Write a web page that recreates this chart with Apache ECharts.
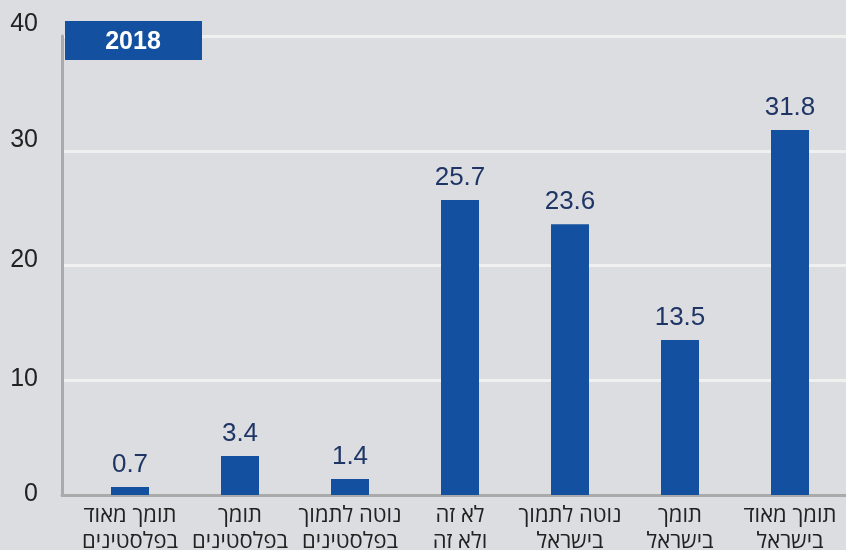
<!DOCTYPE html>
<html><head><meta charset="utf-8">
<script src="https://cdn.jsdelivr.net/npm/echarts@6/dist/echarts.min.js"></script>
<style>html,body{margin:0;padding:0;background:#dcdde0}#c{width:846px;height:550px}</style>
</head><body><div id="c"></div>
<script>
const categories = [
  'תומך מאוד\nבפלסטינים',
  'תומך\nבפלסטינים',
  'נוטה לתמוך\nבפלסטינים',
  'לא זה\nולא זה',
  'נוטה לתמוך\nבישראל',
  'תומך\nבישראל',
  'תומך מאוד\nבישראל'
];
const values = [0.7, 3.4, 1.4, 25.7, 23.6, 13.5, 31.8];
const yearLabel = '2018';
const yTicks = [0, 10, 20, 30, 40];

const font = '"Liberation Sans", "DejaVu Sans", sans-serif';
const hebFont = '"Open Sans", "Liberation Sans", sans-serif';
const tickStyle = pb => ({color: '#222', fontSize: 25, fontFamily: font, padding: [0, 0, pb, 0]});
const chart = echarts.init(document.getElementById('c'));
chart.setOption({
  backgroundColor: '#dcdde0',
  animation: false,
  grid: [
    {left: 62, right: 0, top: 36, bottom: 55, containLabel: false, outerBoundsMode: 'none'},
    {left: 75, right: 1, top: 36, bottom: 55, containLabel: false, outerBoundsMode: 'none'}
  ],
  xAxis: [
    {gridIndex: 0, type: 'value', min: 0, max: 1, axisLabel: {show: false}, axisTick: {show: false},
     splitLine: {show: false}, axisLine: {show: true, lineStyle: {color: '#aaaaaa', width: 3}}},
    {gridIndex: 1, type: 'category', data: categories,
     axisLine: {show: false}, axisTick: {show: false},
     axisLabel: {color: '#222', fontSize: 22, fontFamily: hebFont, lineHeight: 26, margin: 8, interval: 0}}
  ],
  yAxis: [
    {gridIndex: 0, type: 'value', min: 0, max: 40, interval: 10,
     axisLine: {show: true, lineStyle: {color: '#aaaaaa', width: 3}},
     axisTick: {show: false},
     splitLine: {show: true, lineStyle: {color: '#f0f0f0', width: 3}},
     axisLabel: {color: '#222', fontSize: 25, fontFamily: font, margin: 24,
       formatter: v => yTicks.includes(v) ? '{p' + v + '|' + v + '}' : '',
       rich: {p0: tickStyle(2), p10: tickStyle(2), p20: tickStyle(11), p30: tickStyle(22), p40: tickStyle(23)}}},
    {gridIndex: 1, type: 'value', min: 0, max: 40, show: false}
  ],
  series: [{
    type: 'bar', xAxisIndex: 1, yAxisIndex: 1, data: values, barWidth: 38,
    itemStyle: {color: '#13509f'},
    label: {show: true, position: 'top', distance: 9, color: '#1f3566', fontSize: 26, fontFamily: font,
      formatter: p => p.value.toFixed(1)}
  }],
  graphic: [{
    type: 'group', left: 65, top: 21, z: 100,
    children: [
      {type: 'rect', z: 100, shape: {x: 0, y: 0, width: 137, height: 39}, style: {fill: '#13509f'}},
      {type: 'text', z: 101, x: 68, y: 21, style: {text: yearLabel, fill: '#fff', font: 'bold 25px ' + font, textAlign: 'center', textVerticalAlign: 'middle'}}
    ]
  }]
});
</script></body></html>
